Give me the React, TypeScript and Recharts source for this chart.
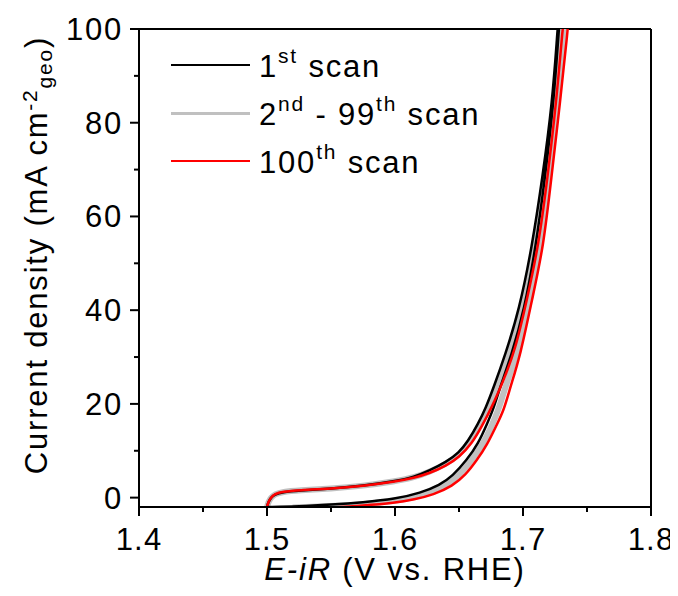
import { Legend, Line, LineChart, ReferenceLine, XAxis, YAxis } from "recharts";

const FONT = '"Liberation Sans", Arial, sans-serif';

// potential (V vs. RHE) and current density (mA cm-2), forward then backward sweep
const scan1E = [
  1.5, 1.501, 1.503, 1.506, 1.512, 1.525, 1.55, 1.575, 1.6, 1.615, 1.627, 1.64, 1.65, 1.657, 1.665, 1.671, 1.677, 1.686,
  1.697, 1.707, 1.715, 1.723, 1.727, 1.728,
  1.729, 1.728, 1.724, 1.717, 1.71, 1.701, 1.691, 1.682, 1.677, 1.672, 1.665, 1.656, 1.645, 1.635, 1.62, 1.6, 1.575,
  1.55, 1.525, 1.5,
];
const scan1J = [
  -2.0, -1.0, 0.0, 0.7, 1.2, 1.5, 1.9, 2.5, 3.5, 4.4, 5.8, 7.6, 9.6, 12.0, 15.8, 19.2, 23.5, 30.4, 40, 53.5, 67.9, 84.4,
  100, 103,
  103, 100, 84.4, 67.9, 53.5, 40, 30.4, 23.5, 19.0, 15.8, 11.5, 8.0, 4.6, 2.7, 1.0, -0.3, -1.0, -1.5, -1.9, -2.0,
];

const midScanE = [
  1.5, 1.501, 1.503, 1.506, 1.512, 1.525, 1.55, 1.575, 1.6, 1.615, 1.627, 1.64, 1.65, 1.658, 1.667, 1.673, 1.68, 1.69,
  1.7, 1.71, 1.717, 1.725, 1.729, 1.73,
  1.733, 1.732, 1.727, 1.72, 1.713, 1.704, 1.695, 1.686, 1.681, 1.676, 1.669, 1.66, 1.65, 1.64, 1.625, 1.605, 1.575,
  1.55, 1.52,
];
const midScanJ = [
  -2.0, -1.0, 0.0, 0.75, 1.25, 1.55, 1.9, 2.5, 3.45, 4.3, 5.5, 7.2, 9.1, 11.8, 15.6, 19.2, 24.0, 31.0, 40, 53.5, 67.9,
  84.4, 100, 103,
  103, 100, 84.4, 67.9, 53.5, 40, 30.4, 23.5, 18.8, 15.6, 11.5, 8.0, 4.7, 2.6, 0.8, -0.6, -1.4, -1.8, -2.1,
];

const scan100E = [
  1.5, 1.501, 1.503, 1.506, 1.512, 1.525, 1.55, 1.575, 1.6, 1.615, 1.627, 1.64, 1.65, 1.66, 1.668, 1.676, 1.684, 1.694,
  1.703, 1.712, 1.719, 1.726, 1.731, 1.732,
  1.736, 1.735, 1.729, 1.722, 1.716, 1.707, 1.698, 1.69, 1.685, 1.679, 1.672, 1.664, 1.655, 1.645, 1.63, 1.615, 1.6,
  1.575, 1.55, 1.53,
];
const scan100J = [
  -2.0, -1.0, 0.0, 0.8, 1.3, 1.6, 1.9, 2.5, 3.4, 4.2, 5.2, 6.8, 8.6, 11.5, 15.3, 19.5, 24.5, 31.5, 42.2, 53.5, 67.9,
  84.4, 100, 103,
  103, 100, 84.4, 67.9, 53.5, 42.2, 30.4, 23.5, 18.6, 15.3, 11.3, 8.0, 4.8, 2.5, 0.6, -0.4, -1.1, -1.7, -2.1, -2.4,
];

const xTicks = [1.4, 1.45, 1.5, 1.55, 1.6, 1.65, 1.7, 1.75, 1.8];
const xLabels = ["1.4", "1.5", "1.6", "1.7", "1.8"];
const yTicks = [0, 10, 20, 30, 40, 50, 60, 70, 80, 90, 100];
const yLabels = ["0", "20", "40", "60", "80", "100"];

const toPoints = (e: number[], j: number[]) => e.map((x, i) => ({ x, y: j[i] }));

const W = 670;
const H = 580;
const X_AXIS_H = 81;
const M = { top: 21, right: 27, bottom: 0, left: 0 };
const plotLeft = 131;
const plotRight = W - M.right;
const plotBottom = H - X_AXIS_H;

const textStyle = { fontFamily: FONT, fontSize: 31, letterSpacing: 1.8, fill: "#000" };

function XTick(props: any) {
  const { x, y, payload } = props;
  const label = Number(payload.value).toFixed(1);
  const major = xLabels.includes(label) && Math.abs(payload.value * 10 - Math.round(payload.value * 10)) < 1e-6;
  return (
    <g>
      <line x1={x} x2={x} y1={y} y2={y + (major ? 9 : 5)} stroke="#000" strokeWidth={2} />
      {major && (
        <text x={x} y={y + 43} textAnchor="middle" style={{ ...textStyle, letterSpacing: 1.2 }}>
          {label}
        </text>
      )}
    </g>
  );
}

function YTick(props: any) {
  const { x, y, payload } = props;
  const label = String(payload.value);
  const major = yLabels.includes(label);
  return (
    <g>
      <line x1={x - (major ? 9 : 5)} x2={x} y1={y} y2={y} stroke="#000" strokeWidth={2} />
      {major && (
        <text x={x - 16} y={y + 11} textAnchor="end" style={textStyle}>
          {label}
        </text>
      )}
    </g>
  );
}

function XTitle() {
  return (
    <text x={(plotLeft + plotRight) / 2} y={plotBottom + 73} textAnchor="middle" style={textStyle}>
      <tspan fontStyle="italic">E-iR</tspan> (V vs. RHE)
    </text>
  );
}

function YTitle() {
  const cx = 39;
  const cy = 247;
  return (
    <text x={cx} y={cy} textAnchor="middle" transform={`rotate(-90, ${cx}, ${cy})`} style={textStyle}>
      Current density (mA cm
      <tspan dy={-10} fontSize={21}>
        -2
      </tspan>
      <tspan dy={14.5} fontSize={21}>
        geo
      </tspan>
      <tspan dy={-4.5}>)</tspan>
    </text>
  );
}

const legendItems = [
  { color: "#000000", thick: 2.5, base: "1", sup: "st", rest: " scan", sup2: "", rest2: "" },
  { color: "#c0c0c0", thick: 3, base: "2", sup: "nd", rest: " - 99", sup2: "th", rest2: " scan" },
  { color: "#ff0000", thick: 2.5, base: "100", sup: "th", rest: " scan", sup2: "", rest2: "" },
];

function LegendBox() {
  const supStyle = { fontSize: 21, position: "relative" as const, top: -14 };
  return (
    <div style={{ fontFamily: FONT, fontSize: 31, letterSpacing: 1.8, color: "#000" }}>
      {legendItems.map((it) => (
        <div key={it.base + it.sup} style={{ display: "flex", alignItems: "center", height: 48, whiteSpace: "nowrap" }}>
          <span style={{ display: "inline-block", width: 79, height: it.thick, background: it.color }} />
          <span style={{ marginLeft: 9, position: "relative", top: 2 }}>
            {it.base}
            <span style={supStyle}>{it.sup}</span>
            {it.rest}
            {it.sup2 && <span style={supStyle}>{it.sup2}</span>}
            {it.rest2}
          </span>
        </div>
      ))}
    </div>
  );
}

export default function App() {
  return (
    <LineChart width={W} height={H} margin={M}>
      <XAxis
        type="number"
        dataKey="x"
        domain={[1.4, 1.8]}
        ticks={xTicks}
        allowDataOverflow
        interval={0}
        height={X_AXIS_H}
        stroke="#000"
        strokeWidth={2}
        tickLine={false}
        tickSize={0}
        tickMargin={0}
        tick={<XTick />}
        label={<XTitle />}
      />
      <YAxis
        type="number"
        dataKey="y"
        domain={[-2, 100]}
        ticks={yTicks}
        allowDataOverflow
        interval={0}
        width={plotLeft}
        stroke="#000"
        strokeWidth={2}
        tickLine={false}
        tickSize={0}
        tickMargin={0}
        tick={<YTick />}
        label={<YTitle />}
      />
      <ReferenceLine y={100} stroke="#000" strokeWidth={2} />
      <ReferenceLine x={1.8} stroke="#000" strokeWidth={2} />
      <Line
        data={toPoints(midScanE, midScanJ)}
        dataKey="y"
        type="basis"
        stroke="#c0c0c0"
        strokeWidth={6}
        dot={false}
        isAnimationActive={false}
      />
      <Line
        data={toPoints(scan1E, scan1J)}
        dataKey="y"
        type="basis"
        stroke="#000000"
        strokeWidth={2.5}
        dot={false}
        isAnimationActive={false}
      />
      <Line
        data={toPoints(scan100E, scan100J)}
        dataKey="y"
        type="basis"
        stroke="#ff0000"
        strokeWidth={2.5}
        dot={false}
        isAnimationActive={false}
      />
      <Legend
        layout="vertical"
        align="center"
        verticalAlign="middle"
        wrapperStyle={{ top: 33, left: 163, width: "auto", margin: 0 }}
        content={() => <LegendBox />}
      />
    </LineChart>
  );
}
